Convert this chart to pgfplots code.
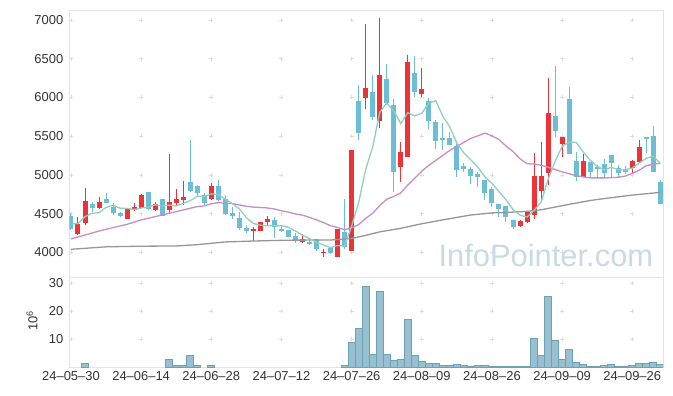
\documentclass[border=0pt]{standalone}
\usepackage{fontspec}
\setmainfont{Liberation Sans}
\usepackage{pgfplots}
\pgfplotsset{compat=1.18}
\usepackage{pgfplotstable}

\definecolor{cRed}{HTML}{EE3338}
\definecolor{cBlue}{HTML}{6BBED6}
\definecolor{cTeal}{HTML}{8ECFC0}
\definecolor{cPurp}{HTML}{C88CC8}
\definecolor{cGray}{HTML}{969696}
\definecolor{cVolF}{HTML}{98C0D0}
\definecolor{cVolD}{HTML}{6EA0B6}
\definecolor{cGrid}{HTML}{DCDCDC}
\definecolor{cFrame}{HTML}{E3E3E3}
\definecolor{cText}{HTML}{333333}
\definecolor{cWm}{HTML}{C8DAE5}

\pgfplotstableread{
i o h l c m5 m20 v
0 4470 4505 4289 4298 4367 4173 0
1 4238 4462 4225 4367 4370 4199 0
2 4384 4828 4354 4664 4462 4225 1.4
3 4625 4655 4526 4578 4505 4250 0
4 4578 4711 4556 4655 4512 4276 0
5 4690 4763 4634 4643 4581 4298 0
6 4582 4634 4483 4505 4609 4320 0
7 4509 4518 4462 4475 4571 4341 0
8 4436 4569 4431 4556 4567 4363 0
9 4548 4634 4535 4591 4554 4391 0
10 4578 4755 4569 4742 4574 4419 0
11 4780 4780 4548 4556 4584 4440 0
12 4548 4655 4539 4625 4614 4462 0
13 4690 4690 4470 4475 4598 4483 0
14 4548 5271 4492 4655 4611 4505 2.6
15 4643 4815 4612 4690 4600 4526 0.5
16 4677 4918 4612 4720 4633 4548 0.5
17 4910 5452 4785 4798 4668 4570 4.3
18 4858 4871 4720 4763 4725 4591 0.5
19 4737 4763 4612 4642 4723 4600 0
20 4686 4892 4677 4858 4756 4628 0.4
21 4858 4935 4668 4677 4748 4643 0
22 4690 4740 4483 4500 4688 4635 0
23 4513 4591 4427 4470 4629 4630 0
24 4444 4526 4289 4311 4563 4613 0
25 4315 4354 4246 4281 4448 4595 0
26 4281 4324 4152 4307 4374 4585 0
27 4281 4397 4276 4388 4351 4580 0
28 4388 4474 4354 4431 4344 4574 0
29 4418 4461 4190 4324 4346 4561 0
30 4302 4345 4268 4276 4345 4537 0
31 4289 4289 4195 4195 4323 4519 0
32 4212 4255 4126 4152 4276 4496 0
33 4134 4238 4126 4169 4223 4480 0
34 4139 4169 4091 4104 4179 4453 0
35 4169 4178 4022 4040 4132 4420 0
36 3997 4044 3945 4010 4095 4385 0
37 4061 4065 3975 3988 4062 4344 0
38 3945 4302 3936 4302 4089 4321 0
39 4260 4685 4040 4068 4082 4293 0.6
40 4022 5323 4022 5323 4338 4316 8.9
41 5960 6163 5452 5538 4644 4359 13.9
42 5991 6951 5848 6120 5070 4440 29.0
43 6068 6292 5711 5754 5361 4504 4.5
44 5702 7025 5603 6292 5805 4603 27.1
45 6240 6434 5900 5935 5928 4686 4.5
46 5904 5978 4785 5043 5829 4723 2.4
47 5108 5422 4914 5293 5663 4768 2.8
48 5228 6551 5228 6456 5804 4869 17.0
49 6322 6538 6012 6077 5761 4957 4.2
50 6047 6378 6012 6111 5796 5049 2.0
51 5960 5991 5590 5702 5928 5124 1.3
52 5689 5711 5332 5444 5958 5188 1.3
53 5482 5668 5323 5452 5757 5253 0.6
54 5482 5560 5388 5388 5619 5317 0.6
55 5375 5400 4978 5065 5410 5368 0.9
56 5121 5151 5043 5078 5285 5421 0.6
57 5078 5108 4884 4991 5195 5472 0.2
58 5009 5043 4849 4970 5098 5505 0.6
59 4935 4935 4677 4772 4975 5540 0.6
60 4819 4849 4591 4643 4891 5506 0.2
61 4625 4625 4462 4556 4786 5457 0.2
62 4599 4599 4397 4462 4681 5374 0.2
63 4419 4419 4298 4332 4553 5303 0.2
64 4341 4419 4324 4410 4481 5209 0.2
65 4397 4526 4375 4518 4456 5145 0.2
66 4483 5280 4427 4987 4542 5140 10.3
67 4798 5431 4655 4987 4647 5125 4.2
68 5030 6249 4871 5805 4941 5100 25.3
69 5762 6408 5487 5573 5174 5070 9.5
70 5397 5495 5228 5487 5368 5040 2.8
71 5986 6141 5271 5271 5425 5015 6.3
72 5185 5301 4927 4970 5421 4990 1.7
73 4970 5271 4970 5185 5297 4975 1.0
74 5172 5172 4957 5043 5191 4962 0.2
75 5099 5129 4957 5084 5111 4962 0.2
76 5142 5202 4970 5030 5063 4962 0.6
77 5258 5258 4978 5151 5099 4965 0.9
78 5086 5129 4978 5030 5068 4970 0.2
79 5073 5116 5013 5043 5068 4985 0.2
80 5086 5194 5021 5181 5087 5020 0.6
81 5163 5452 5151 5366 5154 5062 1.3
82 5487 5495 5284 5461 5216 5120 1.3
83 5504 5637 5043 5043 5240 5140 1.7
84 4914 4935 4625 4625 5150 5150 1.0
}\data

\pgfplotstableread{
i g
0 4040
5 4072
10 4080
15 4083
18 4100
22 4135
26 4147
31 4158
37 4160
40 4180
42 4220
44 4265
47 4311
50 4370
53 4420
57 4483
60 4510
62 4515
65 4530
67 4550
71 4620
74 4670
76 4695
80 4740
84 4775
}\grayma

\pgfplotsset{
  base/.style={
    scale only axis, width=593.5bp,
    xmin=-0.21, xmax=84.38,
    clip marker paths=true,
    axis line style={draw=cFrame, line width=0.8bp},
    tick style={draw=none}, major tick length=0pt,
    ticklabel style={font=\fontsize{13}{13}\selectfont, text=cText, inner sep=0pt},
    yticklabel style={anchor=east, xshift=-6bp},
    scaled ticks=false,
  },
  candle/.style n args={2}{draw=none, mark=none, forget plot,
    error bars/.cd, y dir=both, y explicit, error mark=none,
    error bar style={draw=#1, line width=#2}, /pgfplots/.cd},
}

\begin{document}
\begin{tikzpicture}

% ---------------- price panel ----------------
\begin{axis}[base, name=main,
  height=267bp,
  ymin=3676, ymax=7123,
  ytick={4000,4500,5000,5500,6000,6500,7000},
  yticklabels={4000,4500,5000,5500,6000,6500,7000},
  xtick=\empty,
]
% grid crosses
\addplot[only marks, mark=+, mark size=2bp, color=cGrid, mark options={line width=0.8bp}] coordinates {
(0,4000)(10,4000)(20,4000)(30,4000)(40,4000)(50,4000)(60,4000)(70,4000)(80,4000)
(0,4500)(10,4500)(20,4500)(30,4500)(40,4500)(50,4500)(60,4500)(70,4500)(80,4500)
(0,5000)(10,5000)(20,5000)(30,5000)(40,5000)(50,5000)(60,5000)(70,5000)(80,5000)
(0,5500)(10,5500)(20,5500)(30,5500)(40,5500)(50,5500)(60,5500)(70,5500)(80,5500)
(0,6000)(10,6000)(20,6000)(30,6000)(40,6000)(50,6000)(60,6000)(70,6000)(80,6000)
(0,6500)(10,6500)(20,6500)(30,6500)(40,6500)(50,6500)(60,6500)(70,6500)(80,6500)
(0,7000)(10,7000)(20,7000)(30,7000)(40,7000)(50,7000)(60,7000)(70,7000)(80,7000)
};
% watermark
\node[anchor=base west, inner sep=0pt, font=\fontsize{31}{31}\selectfont, text=cWm]
  at (rel axis cs:0.6215,0.040) {InfoPointer.com};

% wicks (up / down)
\addplot[restrict expr to domain={\thisrow{c}-\thisrow{o}}{0:100000}, candle={cRed}{1bp}]
  table[x=i, y expr={(\thisrow{h}+\thisrow{l})/2}, y error expr={(\thisrow{h}-\thisrow{l})/2}] {\data};
\addplot[restrict expr to domain={\thisrow{c}-\thisrow{o}}{-100000:-0.001}, candle={cBlue}{1bp}]
  table[x=i, y expr={(\thisrow{h}+\thisrow{l})/2}, y error expr={(\thisrow{h}-\thisrow{l})/2}] {\data};
% bodies
\addplot[restrict expr to domain={\thisrow{c}-\thisrow{o}}{0:100000}, candle={cRed}{5bp}]
  table[x=i, y expr={(\thisrow{o}+\thisrow{c})/2}, y error expr={abs(\thisrow{c}-\thisrow{o})/2}] {\data};
\addplot[restrict expr to domain={\thisrow{c}-\thisrow{o}}{-100000:-0.001}, candle={cBlue}{5bp}]
  table[x=i, y expr={(\thisrow{o}+\thisrow{c})/2}, y error expr={abs(\thisrow{c}-\thisrow{o})/2}] {\data};

% moving averages
\addplot[no marks, color=cGray, line width=1.3bp] table[x=i, y=g] {\grayma};
\addplot[no marks, color=cPurp, line width=1.3bp] table[x=i, y=m20] {\data};
\addplot[no marks, color=cTeal, line width=1.3bp] table[x=i, y=m5] {\data};
\end{axis}

% ---------------- volume panel ----------------
\begin{axis}[base, name=vol,
  at={(main.south west)}, anchor=north west,
  height=89.5bp,
  ymin=0, ymax=32.1,
  ytick={10,20,30}, yticklabels={10,20,30},
  xtick={0,10,20,30,40,50,60,70,80},
  xticklabels={24\textendash05\textendash30,24\textendash06\textendash14,24\textendash06\textendash28,24\textendash07\textendash12,24\textendash07\textendash26,24\textendash08\textendash09,24\textendash08\textendash26,24\textendash09\textendash09,24\textendash09\textendash26},
  xticklabel style={anchor=north, yshift=-4.5bp},
  ylabel={10\textsuperscript{6}},
  ylabel style={at={(axis description cs:-0.0632,0.514)}, anchor=center, font=\fontsize{13}{13}\selectfont, text=cText, inner sep=0pt},
]
\addplot[only marks, mark=+, mark size=2bp, color=cGrid, mark options={line width=0.8bp}] coordinates {
(0,10)(10,10)(20,10)(30,10)(40,10)(50,10)(60,10)(70,10)(80,10)
(0,20)(10,20)(20,20)(30,20)(40,20)(50,20)(60,20)(70,20)(80,20)
(0,30)(10,30)(20,30)(30,30)(40,30)(50,30)(60,30)(70,30)(80,30)
};
\addplot[ybar, bar width=1, fill=cVolF, draw=cVolD, line width=0.8bp,
  restrict y to domain=0.05:100] table[x=i, y=v] {\data};
\end{axis}

\pgfresetboundingbox
\path[use as bounding box]
  ([xshift=-69.5bp, yshift=-118.5bp]main.south west)
  rectangle ([xshift=10bp, yshift=10.5bp]main.north east);
\end{tikzpicture}
\end{document}
